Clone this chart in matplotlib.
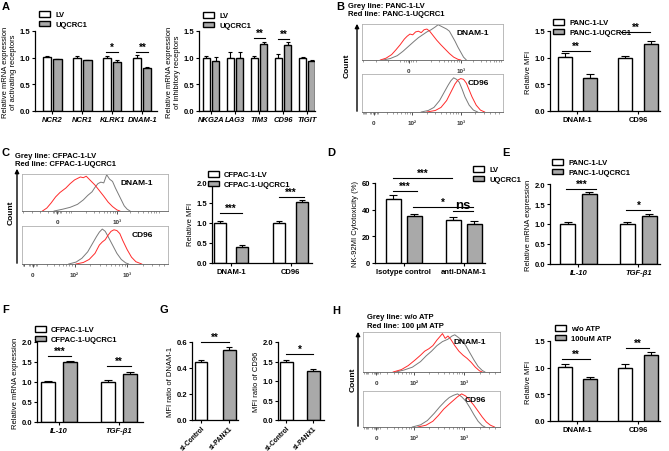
import matplotlib
matplotlib.use('Agg')
import matplotlib.pyplot as plt
import numpy as np
from matplotlib.patches import FancyArrowPatch

W, H = 669, 452
plt.rcParams['font.family'] = ['Liberation Sans', 'DejaVu Sans']
plt.rcParams['font.weight'] = 'bold'
plt.rcParams['axes.linewidth'] = 0.9
GREY = '#a9a9a9'

# ---------------- DATA ----------------
# Panel A (left): activating receptors
a1_cats = ['NCR2', 'NCR1', 'KLRK1', 'DNAM-1']
a1_lv = [1.01, 1.00, 1.00, 1.00]
a1_lv_err = [0.02, 0.03, 0.03, 0.05]
a1_uq = [0.97, 0.95, 0.91, 0.81]
a1_uq_err = [0.01, 0.01, 0.04, 0.02]
# Panel A (right): inhibitory receptors
a2_cats = ['NKG2A', 'LAG3', 'TIM3', 'CD96', 'TIGIT']
a2_lv = [1.00, 1.00, 1.00, 1.00, 1.00]
a2_lv_err = [0.03, 0.10, 0.04, 0.06, 0.02]
a2_uq = [0.93, 0.99, 1.26, 1.24, 0.94]
a2_uq_err = [0.09, 0.11, 0.04, 0.05, 0.02]
# Panel B (right): PANC-1 MFI
mfi_cats = ['DNAM-1', 'CD96']
b_lv = [1.01, 1.00]
b_lv_err = [0.07, 0.03]
b_uq = [0.62, 1.25]
b_uq_err = [0.08, 0.06]
# Panel C (right): CFPAC-1 MFI
c_lv = [1.00, 1.00]
c_lv_err = [0.06, 0.06]
c_uq = [0.41, 1.52]
c_uq_err = [0.03, 0.06]
# Panel D: cytotoxicity
d_cats = ['Isotype control', 'anti-DNAM-1']
d_lv = [48.0, 32.0]
d_lv_err = [3.0, 2.5]
d_uq = [35.0, 29.5]
d_uq_err = [1.5, 2.0]
# Panel E: PANC-1 cytokines
cyt_cats = ['IL-10', 'TGF-β1']
e_lv = [1.00, 1.00]
e_lv_err = [0.04, 0.05]
e_uq = [1.74, 1.19]
e_uq_err = [0.05, 0.07]
# Panel F: CFPAC-1 cytokines
f_lv = [1.00, 1.00]
f_lv_err = [0.03, 0.04]
f_uq = [1.51, 1.21]
f_uq_err = [0.02, 0.05]
# Panel G
g_cats = ['si-Control', 'si-PANX1']
g1_vals = [0.45, 0.54]
g1_err = [0.01, 0.02]
g2_vals = [1.50, 1.26]
g2_err = [0.05, 0.06]
# Panel H (right)
h_lv = [1.02, 1.00]
h_lv_err = [0.05, 0.06]
h_uq = [0.79, 1.24]
h_uq_err = [0.03, 0.05]

# Histogram curves (normalised fluorescence axis, relative count)
bt_gx = [0.15,0.20,0.25,0.29,0.33,0.37,0.40,0.43,0.46,0.49,0.52,0.54,0.56,0.58,0.60,0.62,0.64,0.66,0.68,0.70,0.72,0.74]
bt_gy = [0.00,0.04,0.12,0.24,0.38,0.52,0.62,0.70,0.78,0.84,0.92,0.98,0.94,0.90,0.86,0.80,0.66,0.52,0.36,0.22,0.08,0.00]
bt_rx = [0.13,0.17,0.21,0.24,0.27,0.30,0.32,0.34,0.36,0.38,0.40,0.42,0.44,0.46,0.48,0.50,0.53,0.56,0.59,0.62,0.65,0.68,0.70]
bt_ry = [0.00,0.05,0.15,0.28,0.42,0.58,0.66,0.72,0.70,0.78,0.80,0.76,0.84,0.86,0.80,0.70,0.55,0.42,0.30,0.18,0.08,0.02,0.00]
bb_gx = [0.42,0.47,0.51,0.55,0.58,0.61,0.63,0.65,0.67,0.69,0.71,0.73,0.76,0.79,0.82]
bb_gy = [0.00,0.04,0.12,0.30,0.50,0.70,0.82,0.90,0.86,0.78,0.60,0.40,0.18,0.05,0.00]
bb_rx = [0.46,0.52,0.56,0.60,0.63,0.66,0.68,0.70,0.72,0.74,0.76,0.78,0.81,0.84,0.87]
bb_ry = [0.00,0.04,0.12,0.30,0.52,0.74,0.84,0.88,0.86,0.76,0.58,0.40,0.18,0.05,0.00]
ct_gx = [0.22,0.28,0.33,0.38,0.42,0.45,0.48,0.50,0.52,0.54,0.56,0.58,0.60,0.62,0.64,0.66,0.68,0.70,0.72,0.74]
ct_gy = [0.00,0.05,0.10,0.18,0.30,0.42,0.52,0.64,0.74,0.78,0.76,0.98,0.86,0.80,0.62,0.46,0.30,0.14,0.05,0.00]
ct_rx = [0.14,0.17,0.20,0.23,0.26,0.28,0.30,0.33,0.36,0.38,0.40,0.42,0.44,0.47,0.50,0.53,0.56,0.59,0.62,0.65,0.67]
ct_ry = [0.00,0.08,0.22,0.38,0.50,0.56,0.62,0.74,0.84,0.88,0.92,0.90,0.94,0.82,0.70,0.55,0.40,0.24,0.12,0.03,0.00]
cb_gx = [0.32,0.37,0.41,0.45,0.48,0.51,0.53,0.55,0.57,0.59,0.62,0.65,0.68,0.71,0.73]
cb_gy = [0.00,0.05,0.15,0.32,0.52,0.72,0.84,0.92,0.86,0.72,0.50,0.28,0.12,0.03,0.00]
cb_rx = [0.37,0.42,0.46,0.50,0.53,0.55,0.57,0.59,0.61,0.63,0.65,0.67,0.69,0.72,0.75,0.78,0.82]
cb_ry = [0.00,0.04,0.12,0.28,0.50,0.58,0.64,0.76,0.86,0.90,0.88,0.80,0.62,0.38,0.18,0.06,0.00]
ht_gx = [0.24,0.30,0.36,0.42,0.46,0.50,0.54,0.58,0.62,0.65,0.67,0.69,0.72,0.75,0.78,0.81,0.84,0.87,0.89]
ht_gy = [0.00,0.05,0.12,0.26,0.40,0.52,0.66,0.76,0.82,0.90,0.93,0.88,0.80,0.66,0.48,0.30,0.14,0.04,0.00]
ht_rx = [0.22,0.28,0.33,0.38,0.42,0.45,0.48,0.51,0.54,0.56,0.58,0.60,0.62,0.64,0.67,0.70,0.73,0.76,0.79,0.82,0.85,0.87]
ht_ry = [0.00,0.06,0.16,0.30,0.42,0.52,0.58,0.66,0.80,0.88,0.96,0.84,0.90,0.82,0.66,0.52,0.42,0.34,0.24,0.12,0.03,0.00]
hb_gx = [0.36,0.42,0.47,0.52,0.56,0.60,0.63,0.66,0.69,0.72,0.75,0.78,0.81,0.84,0.87,0.89]
hb_gy = [0.00,0.06,0.18,0.38,0.56,0.72,0.82,0.88,0.92,0.84,0.72,0.54,0.34,0.16,0.04,0.00]
hb_rx = [0.40,0.46,0.51,0.55,0.59,0.63,0.66,0.69,0.72,0.75,0.78,0.81,0.84,0.87,0.90,0.93,0.96]
hb_ry = [0.00,0.05,0.16,0.32,0.50,0.64,0.74,0.84,0.92,0.86,0.74,0.60,0.44,0.28,0.14,0.05,0.00]

# ---------------- HELPERS ----------------
fig = plt.figure(figsize=(W / 100, H / 100), dpi=100)


def ax_px(l, t, r, b):
    return fig.add_axes([l / W, 1 - b / H, (r - l) / W, (b - t) / H])


def ftxt(x, y, s, **kw):
    fig.text(x / W, 1 - y / H, s, **kw)


def style_bar_ax(ax, fs=5.5):
    ax.spines['top'].set_visible(False)
    ax.spines['right'].set_visible(False)
    ax.tick_params(axis='both', labelsize=fs, length=2.5, width=0.8, pad=1)


def sig(ax, x1, x2, y, s, fs=7, dy=0.0):
    ax.plot([x1, x2], [y, y], color='black', lw=0.8, clip_on=False)
    ax.text((x1 + x2) / 2, y + dy, s, ha='center', va='bottom', fontsize=fs, clip_on=False)


def bar_panel(rect, cats, lv, lve, uq, uqe, ylim, yticks, ylabel, width, off, xlim, cap,
              italic=False, yfmt='{:.1f}', fs=5.5):
    ax = ax_px(*rect)
    x = np.arange(len(cats))
    h1 = ax.bar(x - off, lv, width, color='white', edgecolor='black', linewidth=1.0, zorder=2)
    h2 = ax.bar(x + off, uq, width, color=GREY, edgecolor='black', linewidth=1.0, zorder=2)
    z = np.zeros(len(x))
    ax.errorbar(x - off, lv, yerr=[z, lve], fmt='none', ecolor='black', elinewidth=0.8,
                capsize=cap, capthick=0.8, zorder=1)
    ax.errorbar(x + off, uq, yerr=[z, uqe], fmt='none', ecolor='black', elinewidth=0.8,
                capsize=cap, capthick=0.8, zorder=1)
    ax.set_xlim(*xlim)
    ax.set_ylim(*ylim)
    ax.set_yticks(yticks)
    ax.set_yticklabels([yfmt.format(v) for v in yticks])
    ax.set_xticks(x)
    ax.set_xticklabels(cats, style='italic' if italic else 'normal')
    ax.set_ylabel(ylabel, fontsize=fs, labelpad=2)
    style_bar_ax(ax, fs)
    return ax, h1, h2


def legend_px(handles, labels, x, y, fs=5.5):
    fig.legend(handles, labels, loc='upper left', bbox_to_anchor=(x / W, 1 - y / H),
               frameon=False, fontsize=fs, handlelength=1.5, handleheight=0.75,
               handletextpad=0.6, labelspacing=0.3, borderpad=0, borderaxespad=0)


def minor_positions(p_hi, dw, p_zero):
    pos = []
    for d in range(-3, 2):
        for k in range(2, 10):
            p = p_hi + (d + np.log10(k)) * dw
            if p_zero + 0.05 < p < 0.99:
                pos.append(p)
    pos += list(np.linspace(p_zero - 0.03, p_zero + 0.03, 6))
    pos += list(np.linspace(0.01, p_zero - 0.06, 4))
    return pos


def hist_ax(rect, gx, gy, rx, ry, label, major_pos, major_lab, p_hi, dw, p_zero):
    ax = ax_px(*rect)
    ax.plot(gx, gy, color='#7a7a7a', lw=0.7)
    ax.plot(rx, ry, color='#ff2a2a', lw=0.7)
    ax.set_xlim(0, 1)
    ax.set_ylim(0, 1.0)
    ax.set_yticks([])
    ax.set_xticks(major_pos)
    ax.set_xticklabels(major_lab)
    ax.set_xticks(minor_positions(p_hi, dw, p_zero), minor=True)
    for s in ax.spines.values():
        s.set_color('#b0b0b0')
        s.set_linewidth(0.6)
    ax.spines['bottom'].set_color('#606060')
    ax.tick_params(axis='x', which='major', direction='out', length=2.5, width=0.6,
                   labelsize=4.5, pad=3, colors='#333333')
    ax.tick_params(axis='x', which='minor', direction='out', length=1.5, width=0.4,
                   colors='#555555')
    ax.text(0.9, 0.86, label, transform=ax.transAxes, ha='right', va='top', fontsize=6)
    return ax


def arrow_px(x, y1, y2):
    fig.add_artist(FancyArrowPatch((x / W, 1 - y1 / H), (x / W, 1 - y2 / H),
                                   transform=fig.transFigure, arrowstyle='-|>',
                                   mutation_scale=6, lw=1.0, color='black'))


# ---------------- PANEL A ----------------
axA1, h1, h2 = bar_panel((35, 32, 157, 112), a1_cats, a1_lv, a1_lv_err, a1_uq, a1_uq_err,
                         (0, 1.5), [0, 0.5, 1.0, 1.5],
                         'Relative mRNA expression\nof activating receptors',
                         0.27, 0.17, (-0.58, 3.49), 1.6, italic=True)
sig(axA1, 2 - 0.2, 2 + 0.2, 1.10, '*')
sig(axA1, 3 - 0.2, 3 + 0.2, 1.10, '**')
legend_px([h1, h2], ['LV', 'UQCRC1'], 39, 12)

axA2, h1, h2 = bar_panel((199, 32, 315, 112), a2_cats, a2_lv, a2_lv_err, a2_uq, a2_uq_err,
                         (0, 1.5), [0, 0.5, 1.0, 1.5],
                         'Relative mRNA expression\nof inhibitory receptors',
                         0.29, 0.19, (-0.5, 4.33), 1.6, italic=True)
sig(axA2, 2 - 0.2, 2 + 0.25, 1.37, '**')
sig(axA2, 3 - 0.2, 3 + 0.25, 1.35, '**')
legend_px([h1, h2], ['LV', 'UQCRC1'], 203, 13)
ftxt(2, 2, 'A', fontsize=8, va='top', ha='left')

# ---------------- PANEL B ----------------
ftxt(336, 2, 'B', fontsize=8, va='top', ha='left')
ftxt(348, 6, 'Grey line: PANC-1-LV', fontsize=5.5, va='center')
ftxt(348, 15, 'Red line: PANC-1-UQCRC1', fontsize=5.5, va='center')
hist_ax((362, 25, 503, 61), bt_gx, bt_gy, bt_rx, bt_ry, 'DNAM-1',
        [0.33, 0.70], ['0', '10³'], 0.70, 0.30, 0.33)
hist_ax((362, 75, 503, 113), bb_gx, bb_gy, bb_rx, bb_ry, 'CD96',
        [0.085, 0.355, 0.70], ['0', '10²', '10³'], 0.70, 0.345, 0.085)
arrow_px(357, 115, 22)
ftxt(347, 66, 'Count', fontsize=6, rotation=90, ha='center', va='center')

axB, h1, h2 = bar_panel((550, 32, 660, 112), mfi_cats, b_lv, b_lv_err, b_uq, b_uq_err,
                        (0, 1.5), [0, 0.5, 1.0, 1.5], 'Relative MFI',
                        0.23, 0.21, (-0.45, 1.36), 2.8)
sig(axB, 0 - 0.26, 0 + 0.21, 1.13, '**')
sig(axB, 1 - 0.28, 1 + 0.20, 1.48, '**')
legend_px([h1, h2], ['PANC-1-LV', 'PANC-1-UQCRC1'], 553, 20)

# ---------------- PANEL C ----------------
ftxt(1, 148, 'C', fontsize=8, va='top', ha='left')
ftxt(15, 156, 'Grey line: CFPAC-1-LV', fontsize=5.5, va='center')
ftxt(15, 165, 'Red line: CFPAC-1-UQCRC1', fontsize=5.5, va='center')
hist_ax((22, 175, 168, 212), ct_gx, ct_gy, ct_rx, ct_ry, 'DNAM-1',
        [0.24, 0.65], ['0', '10³'], 0.65, 0.30, 0.24)
hist_ax((22, 227, 168, 265), cb_gx, cb_gy, cb_rx, cb_ry, 'CD96',
        [0.075, 0.36, 0.72], ['0', '10²', '10³'], 0.72, 0.36, 0.075)
arrow_px(17, 267, 167)
ftxt(11, 213, 'Count', fontsize=6, rotation=90, ha='center', va='center')

axC, h1, h2 = bar_panel((212, 184, 312, 264), mfi_cats, c_lv, c_lv_err, c_uq, c_uq_err,
                        (0, 2.0), [0, 0.5, 1.0, 1.5, 2.0], 'Relative MFI',
                        0.2, 0.19, (-0.32, 1.36), 2.5)
sig(axC, 0 - 0.19, 0 + 0.19, 1.25, '***')
sig(axC, 1 - 0.2, 1 + 0.22, 1.66, '***')
legend_px([h1, h2], ['CFPAC-1-LV', 'CFPAC-1-UQCRC1'], 208, 172)

# ---------------- PANEL D ----------------
ftxt(327, 148, 'D', fontsize=8, va='top', ha='left')
axD, h1, h2 = bar_panel((375, 184, 485, 264), d_cats, d_lv, d_lv_err, d_uq, d_uq_err,
                        (0, 60), [0, 20, 40, 60], 'NK-92MI Cytotoxicity (%)',
                        0.25, 0.175, (-0.48, 1.35), 2.8, yfmt='{:.0f}')
sig(axD, 0 - 0.18, 1 - 0.2, 63.75, '***')
sig(axD, 0 - 0.18, 0 + 0.22, 54, '***')
sig(axD, 0 + 0.15, 1 + 0.15, 42, '*')
sig(axD, 1 - 0.18, 1 + 0.15, 39, 'ns', fs=9.5)
legend_px([h1, h2], ['LV', 'UQCRC1'], 473, 167)

# ---------------- PANEL E ----------------
ftxt(502, 148, 'E', fontsize=8, va='top', ha='left')
axE, h1, h2 = bar_panel((550, 185, 660, 265), cyt_cats, e_lv, e_lv_err, e_uq, e_uq_err,
                        (0, 2.0), [0, 0.5, 1.0, 1.5, 2.0], 'Relative mRNA expression',
                        0.25, 0.183, (-0.475, 1.36), 2.8, italic=True)
sig(axE, 0 - 0.2, 0 + 0.3, 1.875, '***')
sig(axE, 1 - 0.2, 1 + 0.2, 1.35, '*')
legend_px([h1, h2], ['PANC-1-LV', 'PANC-1-UQCRC1'], 552, 160)

# ---------------- PANEL F ----------------
ftxt(2, 305, 'F', fontsize=8, va='top', ha='left')
axF, h1, h2 = bar_panel((37, 343, 143, 423), cyt_cats, f_lv, f_lv_err, f_uq, f_uq_err,
                        (0, 2.0), [0, 0.5, 1.0, 1.5, 2.0], 'Relative mRNA expression',
                        0.23, 0.183, (-0.37, 1.4), 2.8, italic=True)
sig(axF, 0 - 0.18, 0 + 0.2, 1.65, '***')
sig(axF, 1 - 0.2, 1 + 0.2, 1.40, '**')
legend_px([h1, h2], ['CFPAC-1-LV', 'CFPAC-1-UQCRC1'], 35, 327)

# ---------------- PANEL G ----------------
ftxt(159, 305, 'G', fontsize=8, va='top', ha='left')


def g_panel(rect, vals, errs, ylim, yticks, ylabel, width, xlim, s, sy):
    ax = ax_px(*rect)
    x = np.arange(len(g_cats))
    ax.bar(x, vals, width, color=['white', GREY], edgecolor='black', linewidth=1.0, zorder=2)
    ax.errorbar(x, vals, yerr=[np.zeros(len(x)), errs], fmt='none', ecolor='black',
                elinewidth=0.8, capsize=2.5, capthick=0.8, zorder=1)
    ax.set_xlim(*xlim)
    ax.set_ylim(*ylim)
    ax.set_yticks(yticks)
    ax.set_yticklabels(['{:.1f}'.format(v) for v in yticks])
    ax.set_xticks(x)
    ax.set_xticklabels(g_cats, rotation=45, ha='right', rotation_mode='anchor')
    ax.set_ylabel(ylabel, fontsize=5.5, labelpad=2)
    style_bar_ax(ax)
    ax.tick_params(axis='x', labelsize=4.8, pad=0.5)
    sig(ax, 0, 1, sy, s)
    return ax


g_panel((192, 343, 238, 421), g1_vals, g1_err, (0, 0.6), [0, 0.2, 0.4, 0.6],
        'MFI ratio of DNAM-1', 0.44, (-0.32, 1.3), '**', 0.598)
g_panel((278, 343, 324, 421), g2_vals, g2_err, (0, 2.0), [0, 0.5, 1.0, 1.5, 2.0],
        'MFI ratio of CD96', 0.48, (-0.31, 1.39), '*', 1.7)

# ---------------- PANEL H ----------------
ftxt(332, 306, 'H', fontsize=8, va='top', ha='left')
ftxt(367, 318, 'Grey line: w/o ATP', fontsize=5.5, va='center')
ftxt(367, 327, 'Red line: 100 μM ATP', fontsize=5.5, va='center')
hist_ax((363, 333, 500, 373), ht_gx, ht_gy, ht_rx, ht_ry, 'DNAM-1',
        [0.095, 0.37, 0.74], ['0', '10²', '10³'], 0.74, 0.37, 0.095)
hist_ax((363, 392, 500, 428), hb_gx, hb_gy, hb_rx, hb_ry, 'CD96',
        [0.095, 0.37, 0.74], ['0', '10²', '10³'], 0.74, 0.37, 0.095)
arrow_px(358, 430, 330)
ftxt(353, 380, 'Count', fontsize=6, rotation=90, ha='center', va='center')

axH, h1, h2 = bar_panel((550, 342, 660, 422), mfi_cats, h_lv, h_lv_err, h_uq, h_uq_err,
                        (0, 1.5), [0, 0.5, 1.0, 1.5], 'Relative MFI',
                        0.23, 0.21, (-0.45, 1.36), 2.8)
sig(axH, 0 - 0.26, 0 + 0.21, 1.16, '**')
sig(axH, 1 - 0.2, 1 + 0.18, 1.37, '**')
legend_px([h1, h2], ['w/o ATP', '100uM ATP'], 555, 326)

fig.savefig('out.png', dpi=100)
